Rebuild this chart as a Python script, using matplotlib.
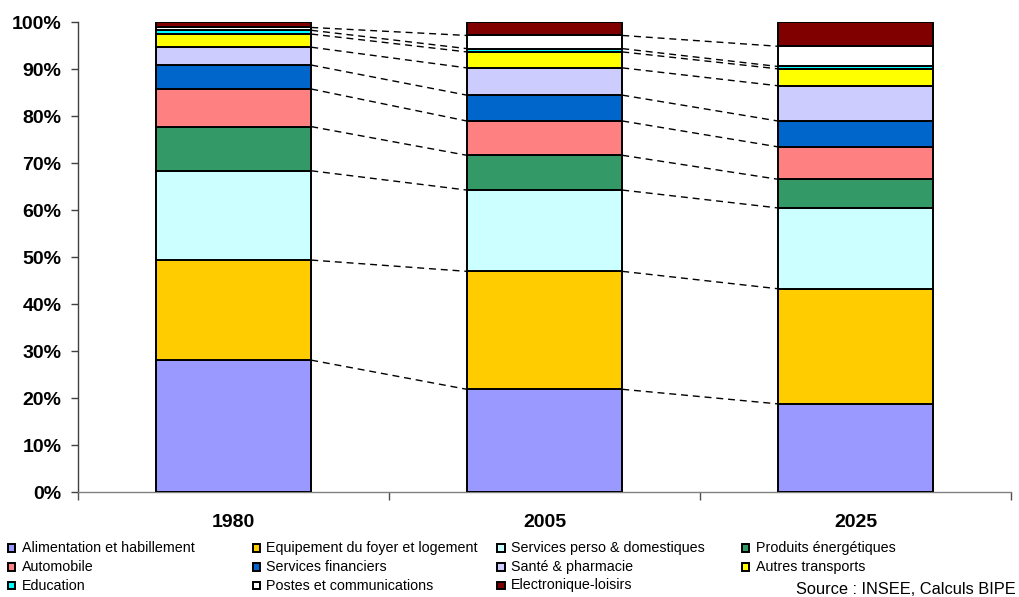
import matplotlib
matplotlib.use("Agg")
import matplotlib.pyplot as plt
import numpy as np
from matplotlib.patches import Rectangle

plt.rcParams['font.family'] = ['Liberation Sans', 'DejaVu Sans']

years = ["1980", "2005", "2025"]

categories = [
    "Alimentation et habillement",
    "Equipement du foyer et logement",
    "Services perso & domestiques",
    "Produits énergétiques",
    "Automobile",
    "Services financiers",
    "Santé & pharmacie",
    "Autres transports",
    "Education",
    "Postes et communications",
    "Electronique-loisirs",
]

# Share of household consumption (%), per category, for 1980 / 2005 / 2025
alimentation = [28.1, 21.9, 18.8]
equipement = [21.3, 25.1, 24.5]
services_perso = [19.0, 17.3, 17.2]
energie = [9.4, 7.4, 6.1]
automobile = [8.0, 7.3, 6.9]
services_financiers = [5.1, 5.5, 5.5]
sante = [3.8, 5.8, 7.5]
autres_transports = [2.8, 3.4, 3.6]
education = [0.8, 0.7, 0.5]
postes = [0.6, 2.8, 4.3]
electronique = [1.1, 2.8, 5.1]

colors = ["#9999FF", "#FFCC00", "#CCFFFF", "#339966", "#FF8080", "#0066CC",
          "#CCCCFF", "#FFFF00", "#00FFFF", "#FFFFFF", "#800000"]

series = [alimentation, equipement, services_perso, energie, automobile,
          services_financiers, sante, autres_transports, education, postes,
          electronique]

W, H = 1019, 597
fig = plt.figure(figsize=(W / 100, H / 100), dpi=100)
ax = fig.add_axes([78 / W, 1 - 492.2 / H, (1011 - 78) / W, (492.2 - 22.3) / H])

x = np.arange(len(years))
bar_w = 0.5
data = np.array(series) / 100.0
bottoms = np.zeros(len(years))
levels = []
for vals, col in zip(data, colors):
    ax.bar(x, vals, bar_w, bottom=bottoms, color=col, edgecolor="black",
           linewidth=1.4, zorder=3)
    bottoms = bottoms + vals
    levels.append(bottoms.copy())

# Series lines joining each segment boundary between consecutive bars
for lev in levels[:-1]:
    for i in range(len(years) - 1):
        ax.plot([x[i] + bar_w / 2, x[i + 1] - bar_w / 2], [lev[i], lev[i + 1]],
                color="black", linewidth=1.0, linestyle=(0, (5, 3.5)), zorder=2)

ax.set_xlim(-0.5, len(years) - 0.5)
ax.set_ylim(0, 1)
ax.set_yticks(np.arange(0, 1.01, 0.1))
ax.set_yticklabels([f"{int(round(v * 100))}%" for v in np.arange(0, 1.01, 0.1)],
                   fontsize=14, fontweight="bold")
ax.tick_params(axis="y", direction="out", length=5, width=1, color="#404040", pad=7)

# Category labels centred under bars, tick marks between categories
ax.set_xticks(np.arange(-0.5, len(years) - 0.4, 1.0))
ax.set_xticklabels([])
ax.tick_params(axis="x", direction="out", length=6, width=1, color="#505050")
for xi, lab in zip(x, years):
    ax.text(xi, -0.065, lab, ha="center", va="center", fontsize=14,
            fontweight="bold", transform=ax.transData)

for s in ["top", "right"]:
    ax.spines[s].set_visible(False)
ax.spines["left"].set_color("#404040")
ax.spines["bottom"].set_color("#808080")
for s in ["left", "bottom"]:
    ax.spines[s].set_linewidth(1.0)

# Legend laid out in a 4-column grid, row by row
col_x = [7.5, 252.5, 497, 741.5]
row_y = [548, 567, 585.5]
sq = 7.5
for k, (lab, col) in enumerate(zip(categories, colors)):
    r, c = divmod(k, 4)
    px, py = col_x[c], row_y[r]
    fig.patches.append(Rectangle((px / W, 1 - (py + sq / 2) / H), sq / W, sq / H,
                                 transform=fig.transFigure, facecolor=col,
                                 edgecolor="black", linewidth=1.4))
    fig.text((px + 14) / W, 1 - py / H, lab, ha="left", va="center",
             fontsize=10.3)

fig.text(1016 / W, 1 - 589 / H, "Source : INSEE, Calculs BIPE", ha="right",
         va="center", fontsize=11.8)

fig.savefig("out.png", dpi=100)
